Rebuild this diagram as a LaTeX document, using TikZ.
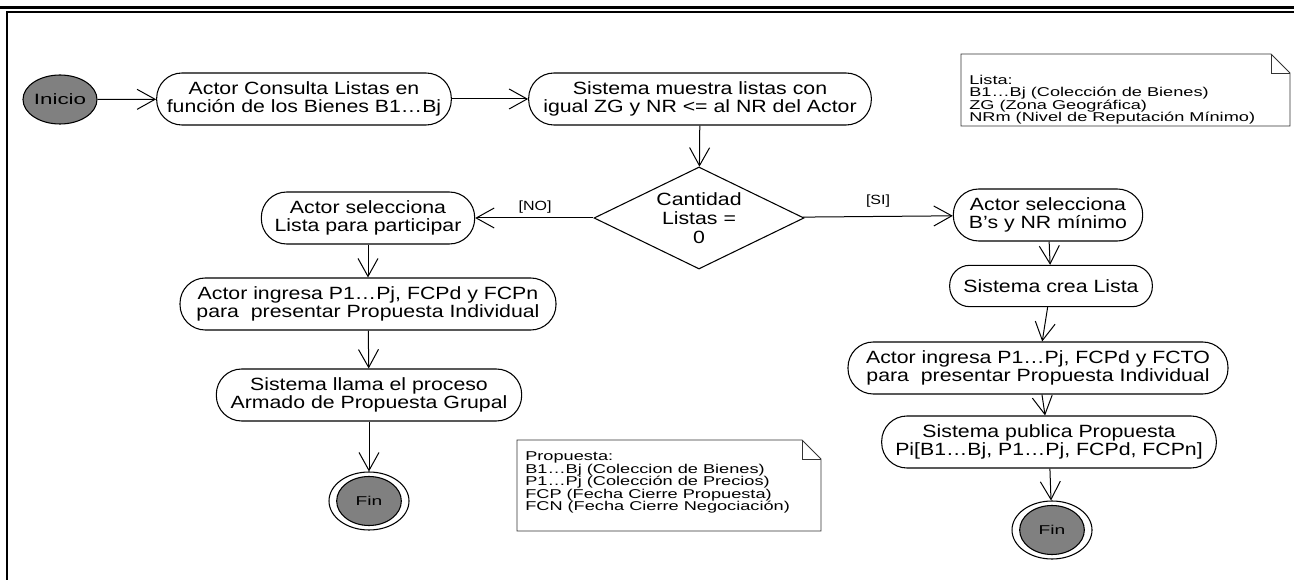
\documentclass[tikz,border=0pt]{standalone}
\usepackage{fontspec}
\setmainfont{Liberation Sans}[FakeStretch=1.2]
\newfontfamily\widefont{Liberation Sans}[FakeStretch=1.5]
\newfontfamily\notefont{Liberation Sans}[FakeStretch=1.42]
\usetikzlibrary{shapes.geometric,arrows.meta}

\tikzset{
  act/.style={draw, line width=0.8pt, rectangle, rounded corners=19pt,
    minimum height=39pt, align=center, inner sep=0pt,
    font=\fontsize{13.3}{14}\selectfont},
  decision/.style={draw, line width=0.8pt, diamond, aspect=2, inner sep=0pt,
    minimum width=157.5pt, minimum height=76.5pt, align=center,
    font=\fontsize{13.3}{14.2}\selectfont},
  startnode/.style={draw, line width=0.8pt, ellipse, fill=black!50,
    minimum width=55.5pt, minimum height=36.75pt, inner sep=0pt,
    font=\widefont\fontsize{11.2}{12}\selectfont},
  endouter/.style={draw, line width=0.8pt, ellipse, minimum width=60pt,
    minimum height=43.5pt, inner sep=0pt},
  endinner/.style={draw, line width=0.8pt, ellipse, fill=black!50,
    minimum width=48.5pt, minimum height=36.75pt, inner sep=0pt,
    font=\widefont\fontsize{9.6}{10}\selectfont},
  guard/.style={font=\fontsize{10}{12}\selectfont, inner sep=0pt},
  notetext/.style={align=left, inner sep=0pt, anchor=north west,
    font=\notefont\fontsize{9.6}{9.4}\selectfont},
  noteline/.style={draw=black!80, line width=0.7pt},
  flow/.style={draw, line width=0.75pt,
    -{Straight Barb[length=13.5pt,width=15pt,line width=0.75pt]}},
}

\begin{document}
\begin{tikzpicture}[x=0.75pt,y=-0.75pt]
\useasboundingbox (0,0) rectangle (1294,580);

% frame
\draw[line width=2.4pt] (0,7.5) -- (1294,7.5);
\draw[line width=2pt] (7,580) -- (7,12) -- (1294,12);

% activities
\node[startnode] (ini) at (60,99.5) {Inicio};
\node[act, minimum width=221pt] (a1) at (304,99)
  {Actor Consulta Listas en\\función de los Bienes B1…Bj};
\node[act, minimum width=257pt] (a2) at (700,99)
  {Sistema muestra listas con\\igual ZG y NR <= al NR del Actor};
\node[decision] (dec) at (699,218) {Cantidad\\Listas =\\0};

\node[act, minimum width=160pt] (l1) at (368,218)
  {Actor selecciona\\Lista para participar};
\node[act, minimum width=282pt] (l2) at (368,304)
  {Actor ingresa P1…Pj, FCPd y FCPn\\para\ \ presentar Propuesta Individual};
\node[act, minimum width=229pt] (l3) at (369,395)
  {Sistema llama el proceso\\Armado de Propuesta Grupal};
\node[endouter] (fin1) at (369,501) {};
\node[endinner] (fin1c) at (369,501) {Fin};

\node[act, minimum width=142pt] (r1) at (1048,215)
  {Actor selecciona\\B’s y NR mínimo};
\node[act, minimum width=152pt, minimum height=31pt, rounded corners=15pt] (r2) at (1051,286)
  {Sistema crea Lista};
\node[act, minimum width=285pt] (r3) at (1038,368)
  {Actor ingresa P1…Pj, FCPd y FCTO\\para\ \ presentar Propuesta Individual};
\node[act, minimum width=251pt] (r4) at (1049,442)
  {Sistema publica Propuesta\\Pi[B1…Bj, P1…Pj, FCPd, FCPn]};
\node[endouter] (fin2) at (1052,530) {};
\node[endinner] (fin2c) at (1052,530) {Fin};

% guards
\node[guard] (gno) at (535,207) {[NO]};
\node[guard] (gsi) at (878,201) {[SI]};

% notes
\draw[noteline] (961,54) -- (1271,54) -- (1290,73) -- (1290,126) -- (961,126) -- cycle;
\draw[noteline] (1271,54) -- (1271,73) -- (1290,73);
\node[notetext] (nlista) at (969,74.5)
  {Lista:\\B1…Bj (Colección de Bienes)\\ZG (Zona Geográfica)\\NRm (Nivel de Reputación Mínimo)};

\draw[noteline] (517,440) -- (802,440) -- (821,459) -- (821,531) -- (517,531) -- cycle;
\draw[noteline] (802,440) -- (802,459) -- (821,459);
\node[notetext] (nprop) at (525,451.5)
  {Propuesta:\\B1…Bj (Coleccion de Bienes)\\P1…Pj (Colección de Precios)\\FCP (Fecha Cierre Propuesta)\\FCN (Fecha Cierre Negociación)};

% flows
\draw[flow] (ini) -- (a1);
\draw[flow] (a1) -- (a2);
\draw[flow] (a2) -- (dec);
\draw[flow] (dec) -- (l1);
\draw[flow] (dec) -- (r1);
\draw[flow] (l1) -- (l2);
\draw[flow] (l2) -- (l3);
\draw[flow] (l3) -- (fin1);
\draw[flow] (r1) -- (r2);
\draw[flow] (r2) -- (r3);
\draw[flow] (r3) -- (r4);
\draw[flow] (r4) -- (fin2);
\end{tikzpicture}
\end{document}
